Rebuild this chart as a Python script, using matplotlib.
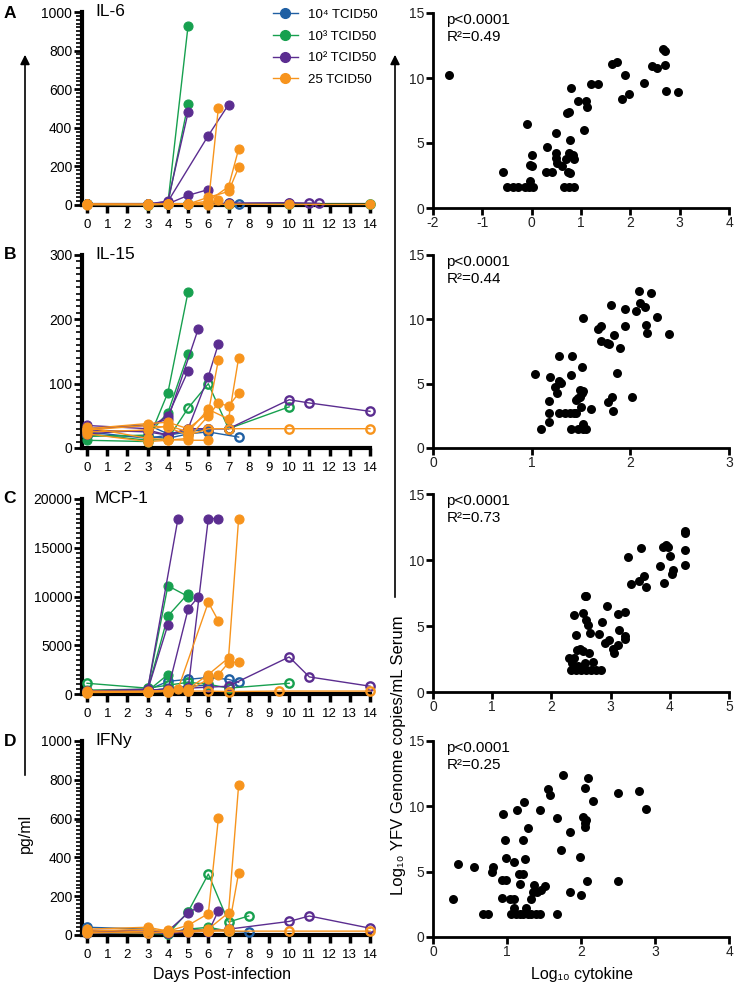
import matplotlib
matplotlib.use('Agg')
import matplotlib.pyplot as plt
from matplotlib.ticker import MultipleLocator
from matplotlib.patches import FancyArrowPatch
from matplotlib.lines import Line2D

plt.rcParams['font.family'] = ['Liberation Sans', 'DejaVu Sans']
plt.rcParams['axes.unicode_minus'] = False

# dose groups
dose_keys = ['e4', 'e3', 'e2', '25']
dose_labels = ['10⁴ TCID50', '10³ TCID50', '10² TCID50', '25 TCID50']
dose_colors = {'e4': '#1f5fa3', 'e3': '#17a04f', 'e2': '#5b2d90', '25': '#f7941d'}

day_ticks = list(range(15))

# time courses per animal: (dose, days, pg/ml, open marker)
il6_tracks = [
    ('e4', [0, 3, 4, 5, 6, 7, 7.5], [5, 3, 4, 6, 5, 8, 4], True),
    ('e4', [0, 3, 4, 5], [3, 2, 5, 4], False),
    ('e3', [0, 3, 4, 5], [6, 4, 10, 930], False),
    ('e3', [0, 3, 4, 5], [4, 3, 8, 525], False),
    ('e3', [0, 3, 4, 5, 6, 7, 10, 14], [3, 2, 4, 3, 4, 3, 5, 3], True),
    ('e2', [0, 3, 4, 5], [6, 5, 20, 480], False),
    ('e2', [0, 3, 4, 5, 6], [4, 3, 6, 50, 80], False),
    ('e2', [0, 3, 4, 6, 7], [3, 4, 18, 360, 520], False),
    ('e2', [0, 3, 4, 5, 6, 7, 10], [5, 3, 4, 5, 3, 10, 12], False),
    ('e2', [10, 11, 11.5], [12, 10, 8], True),
    ('25', [0, 3, 4, 5, 6, 6.5], [4, 3, 5, 4, 6, 505], False),
    ('25', [0, 3, 4, 5, 6, 7, 7.5], [3, 2, 4, 6, 20, 95, 290], False),
    ('25', [0, 3, 4, 5, 6, 7, 7.5], [2, 3, 3, 5, 40, 70, 195], False),
    ('25', [0, 3, 4, 5, 6, 6.5], [5, 4, 3, 6, 10, 25], False),
    ('25', [0, 3, 4, 5, 6, 7, 10, 14], [3, 2, 4, 3, 2, 4, 3, 3], False),
]

il15_tracks = [
    ('e4', [0, 3, 4, 5, 6, 7.5], [20, 18, 15, 22, 25, 17], True),
    ('e4', [0, 3, 4, 5, 6], [30, 36, 22, 28, 27], False),
    ('e4', [0, 3, 4, 5, 6, 7], [25, 15, 20, 25, 30, 30], True),
    ('e3', [0, 3, 4, 5], [12, 10, 86, 243], False),
    ('e3', [0, 3, 4, 5], [18, 20, 55, 146], False),
    ('e3', [0, 3, 4, 5, 6, 7, 10], [22, 12, 14, 62, 100, 30, 64], True),
    ('e2', [0, 3, 4, 5.5], [30, 35, 45, 185], False),
    ('e2', [0, 3, 4, 5], [35, 30, 50, 120], False),
    ('e2', [0, 3, 4, 5, 6, 6.5], [28, 25, 20, 30, 111, 162], False),
    ('e2', [0, 3, 4, 5, 6, 7, 10, 11, 14], [22, 28, 20, 30, 30, 30, 75, 70, 57], True),
    ('25', [0, 3, 4, 5, 6, 6.5], [30, 38, 40, 30, 55, 137], False),
    ('25', [0, 3, 4, 5, 6, 7, 7.5], [25, 28, 35, 25, 60, 45, 140], False),
    ('25', [0, 3, 4, 5, 6, 6.5, 7, 7.5], [22, 10, 12, 15, 50, 70, 65, 85], False),
    ('25', [0, 3, 4, 5, 6, 7, 10, 14], [28, 35, 32, 20, 30, 30, 30, 30], True),
    ('25', [0, 3, 4, 5, 6], [32, 15, 13, 12, 12], False),
]

mcp1_tracks = [
    ('e4', [0, 3, 4, 5, 6, 7, 7.5], [300, 400, 1300, 1500, 1700, 1500, 1200], True),
    ('e4', [0, 3, 4, 5, 6], [200, 300, 600, 800, 900], False),
    ('e3', [0, 3, 4, 5], [400, 500, 11100, 10000], False),
    ('e3', [0, 3, 4, 5], [300, 400, 8000, 10300], False),
    ('e3', [0, 3, 4], [200, 300, 2000], False),
    ('e3', [0, 3, 4, 5, 6, 7, 10], [1100, 600, 900, 1200, 1000, 600, 1100], True),
    ('e2', [0, 3, 4.5], [300, 500, 18000], False),
    ('e2', [0, 3, 4], [200, 400, 7100], False),
    ('e2', [0, 3, 4, 5, 5.5], [300, 300, 400, 8700, 9950], False),
    ('e2', [0, 3, 4, 5, 6, 6.5], [250, 300, 350, 500, 18000, 18000], False),
    ('e2', [0, 3, 4, 5, 6, 7, 10, 11, 14], [300, 400, 500, 600, 700, 800, 3800, 1750, 800], True),
    ('25', [0, 3, 4, 4.5, 6, 6.5], [200, 300, 350, 500, 9400, 7500], False),
    ('25', [0, 3, 4, 5, 6, 7, 7.5], [300, 250, 400, 500, 2000, 3700, 18000], False),
    ('25', [0, 3, 4, 5, 6, 6.5, 7, 7.5], [200, 200, 300, 400, 1500, 2000, 3200, 3300], False),
    ('25', [0, 3, 4, 5, 6, 7, 9.5, 14], [150, 200, 250, 300, 300, 250, 300, 300], True),
]

ifny_tracks = [
    ('e4', [0, 3, 4, 5, 6, 7, 8], [40, 30, 15, 25, 30, 20, 15], True),
    ('e3', [0, 3, 4, 5, 6, 7, 8], [10, 8, 5, 120, 314, 67, 98], True),
    ('e3', [0, 3, 4, 5, 6, 7], [15, 10, 12, 30, 40, 20], False),
    ('e2', [0, 3, 4, 5, 5.5], [20, 15, 20, 113, 144], False),
    ('e2', [0, 3, 4, 5, 6, 6.5], [25, 20, 10, 30, 15, 125], False),
    ('e2', [0, 3, 4, 5, 6, 7, 10, 11, 14], [10, 12, 8, 15, 20, 30, 70, 98, 35], True),
    ('25', [0, 3, 4, 5, 6, 6.5], [30, 40, 20, 50, 110, 603], False),
    ('25', [0, 3, 4, 5, 6, 7, 7.5], [20, 30, 15, 20, 30, 115, 773], False),
    ('25', [0, 3, 4, 5, 6, 7, 7.5], [10, 20, 25, 15, 20, 30, 320], False),
    ('25', [0, 3, 4, 5, 6, 7, 10, 14], [15, 10, 15, 20, 20, 20, 20, 20], True),
]

# log10 cytokine vs log10 YFV genome copies
il6_x = [-1.68, -0.09, 0.01, 0.01, -0.03, -0.03, -0.58, -0.51, -0.38, -0.28, -0.14, -0.05, 0.03,
         0.32, 0.30, 0.42, 0.49, 0.50, 0.50, 0.51, 0.62, 0.72, 0.75, 0.77, 0.75, 0.78, 0.84, 0.70,
         0.85, 0.74, 0.77, 0.65, 0.75, 0.85, 0.79, 0.93, 1.11, 1.12, 1.06, 1.20, 1.34, 1.63, 1.72,
         1.84, 1.97, 1.90, 2.28, 2.44, 2.54, 2.66, 2.71, 2.70, 2.72, 2.97]
il6_y = [10.25, 6.46, 4.05, 3.2, 3.3, 2.05, 2.8, 1.6, 1.6, 1.6, 1.6, 1.6, 1.6,
         4.67, 2.77, 2.77, 5.77, 4.2, 3.85, 3.46, 3.26, 7.3, 7.35, 5.2, 4.2, 4.1, 4.1, 3.8,
         3.8, 2.8, 2.7, 1.6, 1.6, 1.6, 9.23, 8.2, 8.2, 7.8, 5.97, 9.54, 9.54, 11.1, 11.26,
         8.38, 8.77, 10.23, 9.6, 10.9, 10.74, 12.2, 12.05, 11.0, 8.97, 8.9]

il15_x = [1.03, 1.09, 1.18, 1.18, 1.18, 1.19, 1.24, 1.26, 1.28, 1.30, 1.28, 1.28, 1.34, 1.39, 1.43,
          1.45, 1.40, 1.40, 1.41, 1.45, 1.47, 1.49, 1.51, 1.49, 1.52, 1.50, 1.51, 1.52, 1.47, 1.52,
          1.55, 1.52, 1.60, 1.67, 1.70, 1.70, 1.76, 1.78, 1.77, 1.81, 1.80, 1.83, 1.82, 1.86, 1.90,
          1.95, 1.95, 2.02, 2.06, 2.09, 2.10, 2.15, 2.16, 2.17, 2.21, 2.27, 2.39]
il15_y = [5.75, 1.45, 2.0, 2.7, 3.68, 5.49, 4.77, 4.25, 5.23, 5.08, 7.18, 2.7, 2.7, 2.7, 2.7,
          2.7, 1.45, 5.67, 7.15, 3.7, 3.9, 4.5, 4.3, 4.0, 4.4, 3.16, 6.32, 10.13, 1.45, 1.45,
          1.45, 1.9, 3.0, 9.25, 9.48, 8.34, 8.13, 8.1, 3.6, 3.94, 11.09, 8.75, 2.88, 5.85, 7.8,
          10.8, 9.5, 3.99, 10.65, 12.2, 11.3, 10.98, 9.56, 8.9, 12.02, 10.2, 8.83]

mcp1_x = [2.56, 2.58, 2.38, 2.53, 2.59, 2.62, 2.42, 2.65, 2.80, 2.86, 2.94, 2.90, 2.97, 3.04, 3.06,
          3.13, 3.25, 3.14, 3.24, 3.24, 3.12, 3.29, 3.34, 3.48, 3.56, 3.52, 3.59, 3.83, 3.88, 3.94,
          3.97, 4.00, 3.90, 4.03, 4.05, 4.25, 4.25, 4.25, 4.25, 2.34, 2.39, 2.43, 2.49, 2.53, 2.63,
          2.56, 2.33, 2.42, 2.50, 2.59, 2.67, 2.76, 2.83, 2.30, 2.45, 2.70]
mcp1_y = [7.3, 7.24, 5.8, 5.97, 5.47, 5.09, 4.33, 4.5, 4.38, 5.34, 6.53, 3.75, 3.95, 3.24, 2.99,
          5.9, 6.03, 4.7, 4.25, 4.0, 3.57, 10.23, 8.2, 8.43, 8.81, 10.89, 7.95, 9.57, 11.0, 11.16,
          11.0, 10.28, 8.25, 8.96, 9.27, 12.2, 12.05, 10.73, 9.65, 2.18, 2.56, 3.19, 3.24, 3.11, 2.94,
          2.18, 1.67, 1.67, 1.67, 1.67, 1.67, 1.67, 1.67, 2.6, 2.0, 2.3]

ifny_x = [0.27, 0.34, 0.55, 0.68, 0.74, 0.81, 0.80, 0.94, 0.97, 0.99, 0.93, 0.99, 0.93, 1.04, 1.09,
          1.09, 1.06, 1.12, 1.17, 1.22, 1.28, 1.33, 1.39, 1.44, 1.09, 1.14, 1.16, 1.18, 1.23, 1.22,
          1.24, 1.22, 1.26, 1.29, 1.33, 1.35, 1.37, 1.40, 1.46, 1.51, 1.45, 1.55, 1.58, 1.68, 1.67,
          1.73, 1.75, 1.85, 1.85, 1.99, 2.00, 2.03, 2.05, 2.07, 2.05, 2.06, 2.08, 2.10, 2.16, 2.50,
          2.50, 2.78, 2.88]
ifny_y = [2.91, 5.56, 5.36, 1.79, 1.79, 5.36, 4.97, 9.39, 7.45, 6.07, 4.39, 4.39, 2.98, 2.91, 2.91,
          2.24, 1.79, 1.79, 1.79, 1.79, 1.79, 1.79, 1.79, 1.79, 5.74, 9.74, 4.85, 4.08, 10.33, 7.4,
          6.0, 4.85, 2.24, 8.37, 2.91, 3.44, 3.95, 3.44, 3.57, 3.88, 9.74, 11.3, 10.84, 1.79, 9.1,
          6.63, 12.37, 8.0, 3.44, 6.12, 3.19, 9.18, 11.43, 8.98, 8.42, 8.72, 4.26, 12.19, 10.41, 11.02,
          4.29, 11.17, 9.8]

panel_names = ['IL-6', 'IL-15', 'MCP-1', 'IFNy']
panel_letters = ['A', 'B', 'C', 'D']
panel_tracks = [il6_tracks, il15_tracks, mcp1_tracks, ifny_tracks]
panel_ymax = [1000, 300, 20000, 1000]
panel_ystep = [200, 100, 5000, 200]
panel_yminor = [20, 10, 500, 20]
scatter_x = [il6_x, il15_x, mcp1_x, ifny_x]
scatter_y = [il6_y, il15_y, mcp1_y, ifny_y]
scatter_xlim = [(-2, 4), (0, 3), (0, 5), (0, 4)]
r_squared = ['0.49', '0.44', '0.73', '0.25']

W, H = 736, 989
left_rows = [(12, 205), (255, 448), (499, 694), (741, 935)]
right_rows = [(13, 208), (255, 448), (494, 692), (741, 937)]
letter_y = [13, 255, 499, 742]


def fx(px):
    return px / W


def fy(py):
    return 1 - py / H


fig = plt.figure(figsize=(W / 100, H / 100), dpi=100)

for i in range(4):
    top, bot = left_rows[i]
    ax = fig.add_axes([fx(82), fy(bot), fx(370) - fx(82), (bot - top) / H])
    for key in dose_keys:
        for dose, d, v, hollow in panel_tracks[i]:
            if dose != key:
                continue
            c = dose_colors[dose]
            ax.plot(d, v, '-o', color=c, lw=1, ms=6.5 if not hollow else 6,
                    mfc='none' if hollow else c, mec=c, mew=1.7 if hollow else 0.8,
                    clip_on=False, zorder=3)
    ax.set_xlim(-0.25, 14)
    ax.set_ylim(0, panel_ymax[i])
    ax.set_xticks(day_ticks)
    ax.set_yticks(range(0, panel_ymax[i] + 1, panel_ystep[i]))
    ax.yaxis.set_minor_locator(MultipleLocator(panel_yminor[i]))
    for s in ['top', 'right']:
        ax.spines[s].set_visible(False)
    ax.spines['left'].set_linewidth(3)
    ax.spines['bottom'].set_linewidth(3)
    ax.tick_params(axis='y', which='major', length=6, width=2, labelsize=10, pad=1)
    ax.tick_params(axis='y', which='minor', length=4, width=1.2)
    ax.tick_params(axis='x', which='major', length=6, width=2.5, labelsize=9.5, pad=4)
    ax.text(0.045, 1.0, panel_names[i], transform=ax.transAxes, fontsize=12.5,
            va='center', ha='left')
    fig.text(fx(10), fy(letter_y[i]), panel_letters[i], fontsize=12.5, fontweight='bold',
             ha='center', va='center')

    top, bot = right_rows[i]
    ax2 = fig.add_axes([fx(433), fy(bot), fx(729) - fx(433), (bot - top) / H])
    ax2.scatter(scatter_x[i], scatter_y[i], s=42, c='k', linewidths=0, clip_on=False, zorder=3)
    ax2.set_xlim(*scatter_xlim[i])
    ax2.set_ylim(0, 15)
    ax2.set_yticks([0, 5, 10, 15])
    ax2.set_xticks(range(scatter_xlim[i][0], scatter_xlim[i][1] + 1))
    for s in ['top', 'right']:
        ax2.spines[s].set_visible(False)
    ax2.spines['left'].set_linewidth(2)
    ax2.spines['bottom'].set_linewidth(2)
    ax2.tick_params(length=5, width=2, labelsize=10, pad=1, labelcolor='#222222')
    ax2.text(0.045, 1.0, 'p<0.0001\nR²=' + r_squared[i], transform=ax2.transAxes,
             fontsize=11, va='top', ha='left', linespacing=1.25)

# legend
handles = [Line2D([], [], color=dose_colors[k], marker='o', ms=7, lw=1) for k in dose_keys]
fig.legend(handles, dose_labels, loc='upper left', bbox_to_anchor=(fx(266), fy(2)),
           frameon=False, fontsize=9.5, handlelength=1.9, labelspacing=0.72,
           handletextpad=0.8, borderpad=0)

# axis labels with arrows
fig.add_artist(FancyArrowPatch((fx(25), fy(778)), (fx(25), fy(52)), transform=fig.transFigure,
                               arrowstyle='-|>', mutation_scale=14, lw=1.2, color='k'))
fig.add_artist(FancyArrowPatch((fx(395), fy(600)), (fx(395), fy(52)), transform=fig.transFigure,
                               arrowstyle='-|>', mutation_scale=14, lw=1.2, color='k'))
fig.text(fx(25), fy(833), 'pg/ml', rotation=90, fontsize=11.5, ha='center', va='center')
fig.text(fx(398), fy(755), 'Log₁₀ YFV Genome copies/mL Serum', rotation=90, fontsize=12,
         ha='center', va='center')
fig.text(fx(222), fy(975), 'Days Post-infection', fontsize=11.5, ha='center', va='center')
fig.text(fx(582), fy(974), 'Log₁₀ cytokine', fontsize=11.5, ha='center', va='center')

fig.savefig('out.png', dpi=100)
